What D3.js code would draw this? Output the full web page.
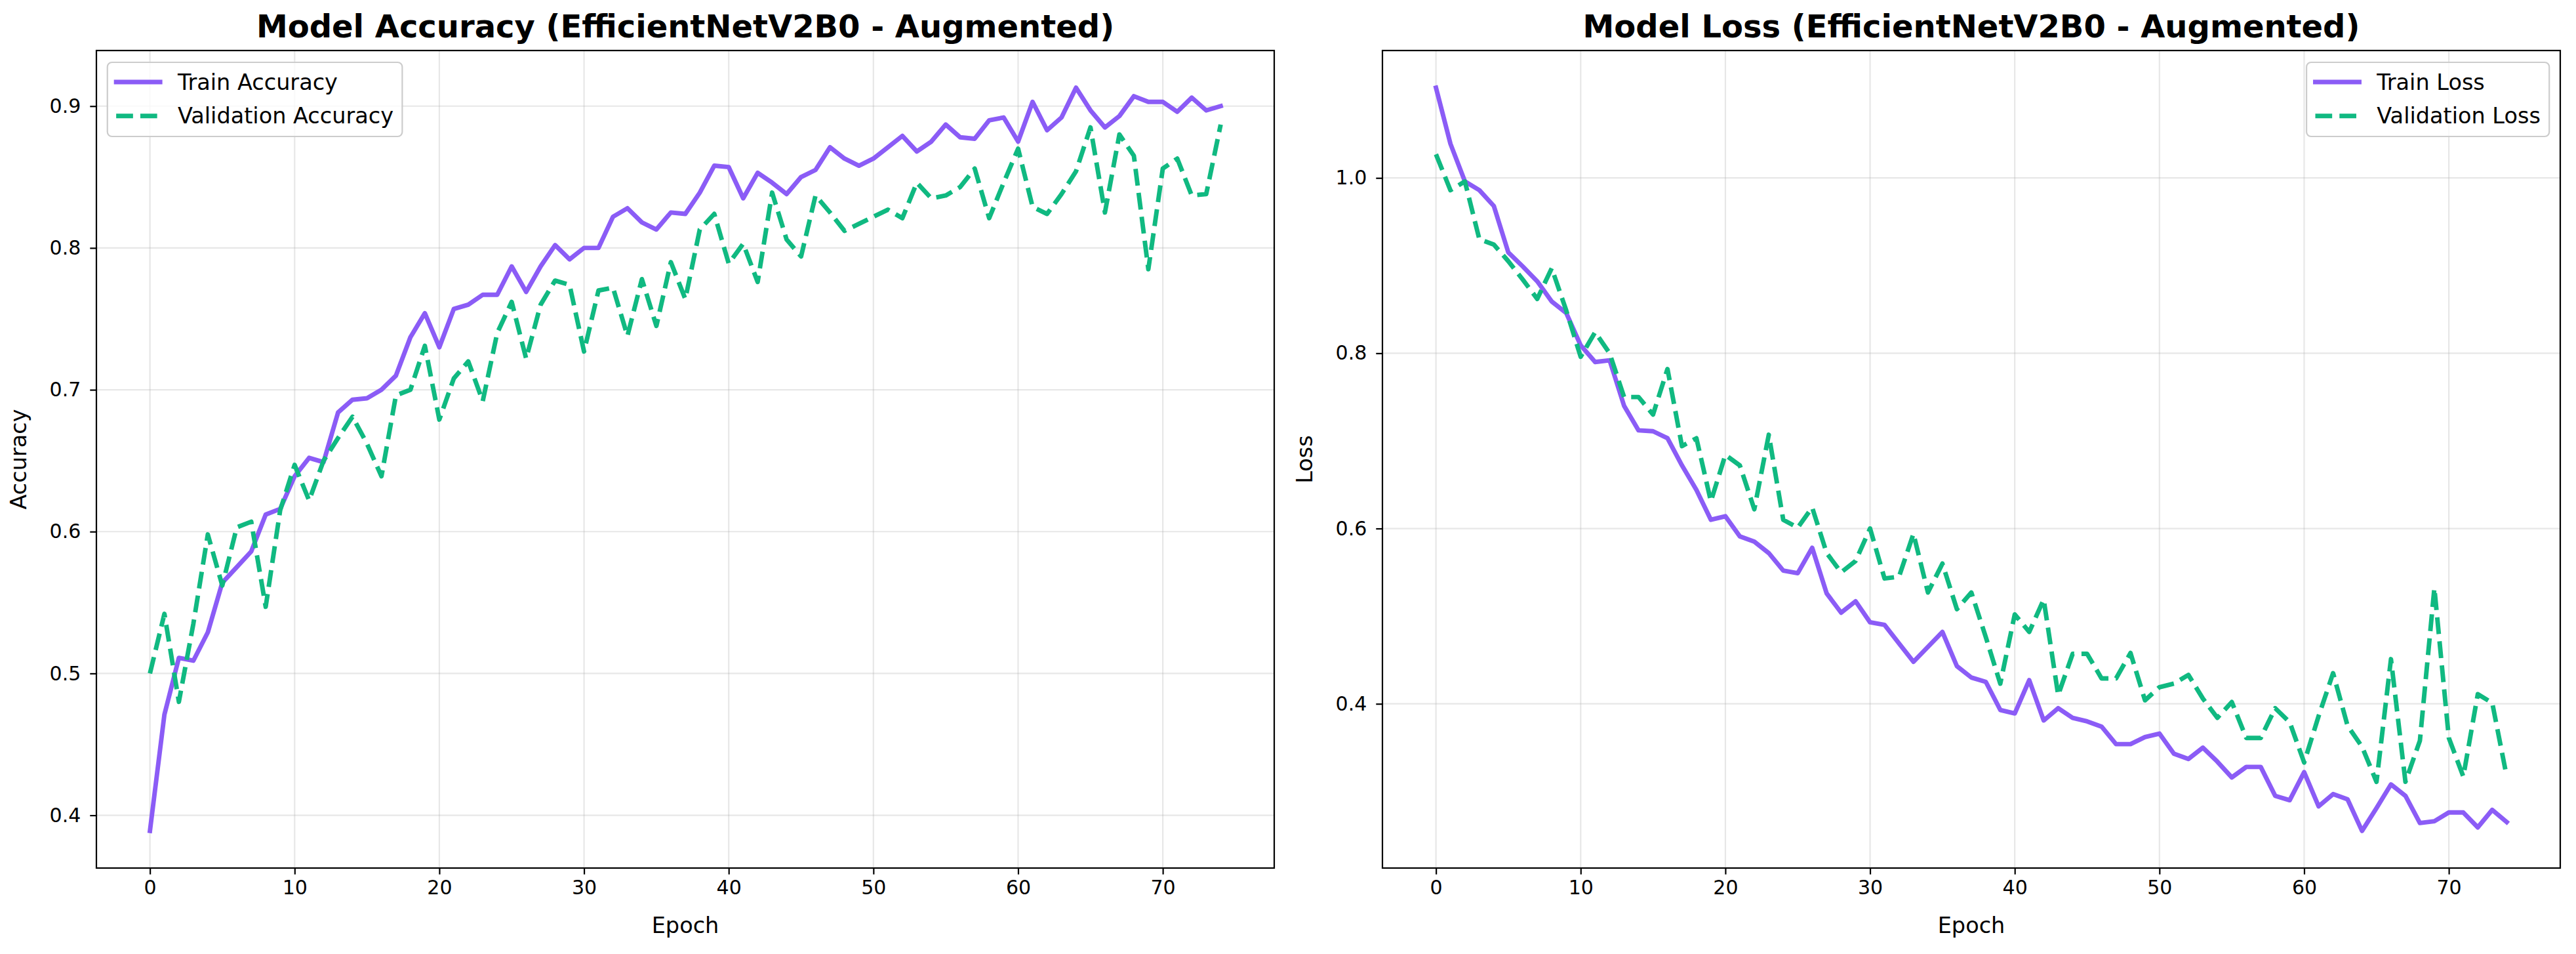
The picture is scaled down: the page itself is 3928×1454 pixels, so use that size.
<!DOCTYPE html>
<html>
<head>
<meta charset="utf-8">
<script src="https://cdn.jsdelivr.net/npm/d3@7/dist/d3.min.js"></script>
<style>
  html, body { margin: 0; padding: 0; background: #ffffff; }
  svg { display: block; font-family: "DejaVu Sans", sans-serif; }
</style>
</head>
<body>
<svg id="chart" width="3928" height="1454"></svg>
<script>
// ---------------- data ----------------
const epochs = d3.range(0, 75);

const trainAccuracy = [
  0.389, 0.471, 0.511, 0.509, 0.529, 0.564, 0.575, 0.586, 0.612, 0.616,
  0.639, 0.652, 0.649, 0.684, 0.693, 0.694, 0.700, 0.710, 0.737, 0.754,
  0.730, 0.757, 0.760, 0.767, 0.767, 0.787, 0.769, 0.787, 0.802, 0.792,
  0.800, 0.800, 0.822, 0.828, 0.818, 0.813, 0.825, 0.824, 0.839, 0.858,
  0.857, 0.835, 0.853, 0.846, 0.838, 0.850, 0.855, 0.871, 0.863, 0.858,
  0.863, 0.871, 0.879, 0.868, 0.875, 0.887, 0.878, 0.877, 0.890, 0.892,
  0.875, 0.903, 0.883, 0.892, 0.913, 0.897, 0.885, 0.893, 0.907, 0.903,
  0.903, 0.896, 0.906, 0.897, 0.900
];
const valAccuracy = [
  0.500, 0.542, 0.480, 0.535, 0.598, 0.562, 0.603, 0.607, 0.547, 0.615,
  0.647, 0.622, 0.650, 0.666, 0.681, 0.662, 0.639, 0.696, 0.700, 0.731,
  0.679, 0.708, 0.720, 0.692, 0.740, 0.762, 0.722, 0.760, 0.777, 0.774,
  0.727, 0.770, 0.772, 0.738, 0.778, 0.745, 0.790, 0.764, 0.813, 0.824,
  0.789, 0.803, 0.776, 0.839, 0.806, 0.794, 0.837, 0.825, 0.812, 0.817,
  0.822, 0.827, 0.821, 0.846, 0.835, 0.837, 0.843, 0.856, 0.821, 0.846,
  0.870, 0.829, 0.824, 0.838, 0.854, 0.885, 0.825, 0.880, 0.865, 0.785,
  0.856, 0.863, 0.837, 0.838, 0.887
];
const trainLoss = [
  1.103, 1.039, 0.996, 0.986, 0.968, 0.915, 0.899, 0.882, 0.859, 0.846,
  0.809, 0.790, 0.792, 0.740, 0.712, 0.711, 0.703, 0.672, 0.644, 0.610,
  0.614, 0.591, 0.585, 0.572, 0.552, 0.549, 0.578, 0.526, 0.504, 0.517,
  0.493, 0.490, 0.469, 0.448, 0.465, 0.482, 0.443, 0.430, 0.425, 0.393,
  0.389, 0.427, 0.381, 0.395, 0.384, 0.380, 0.374, 0.354, 0.354, 0.362,
  0.366, 0.343, 0.337, 0.350, 0.334, 0.316, 0.328, 0.328, 0.295, 0.290,
  0.322, 0.283, 0.297, 0.291, 0.255, 0.281, 0.308, 0.295, 0.264, 0.266,
  0.276, 0.276, 0.259, 0.279, 0.265
];
const valLoss = [
  1.027, 0.986, 0.996, 0.930, 0.924, 0.905, 0.884, 0.862, 0.897, 0.849,
  0.796, 0.824, 0.800, 0.750, 0.750, 0.730, 0.782, 0.694, 0.703, 0.631,
  0.684, 0.672, 0.622, 0.707, 0.610, 0.601, 0.624, 0.572, 0.550, 0.563,
  0.600, 0.543, 0.545, 0.594, 0.527, 0.560, 0.508, 0.527, 0.476, 0.423,
  0.502, 0.482, 0.519, 0.410, 0.457, 0.457, 0.429, 0.429, 0.458, 0.404,
  0.419, 0.423, 0.433, 0.406, 0.384, 0.402, 0.361, 0.361, 0.395, 0.379,
  0.333, 0.386, 0.435, 0.375, 0.351, 0.311, 0.451, 0.311, 0.358, 0.532,
  0.361, 0.317, 0.411, 0.401, 0.317
];

const xTicks = [0, 10, 20, 30, 40, 50, 60, 70];
const accTicks = [0.4, 0.5, 0.6, 0.7, 0.8, 0.9];
const lossTicks = [0.4, 0.6, 0.8, 1.0];

const titles = ["Model Accuracy (EfficientNetV2B0 - Augmented)", "Model Loss (EfficientNetV2B0 - Augmented)"];
const yLabels = ["Accuracy", "Loss"];
const xLabel = "Epoch";
const seriesNamesAcc = ["Train Accuracy", "Validation Accuracy"];
const seriesNamesLoss = ["Train Loss", "Validation Loss"];

// ---------------- styling ----------------
const TRAIN_COLOR = "#8b5cf6";
const VAL_COLOR = "#10b981";
const LINE_W = 6.9;
const DASH = "25.7,11.1";
const TICK_FS = 30;
const LABEL_FS = 33.5;
const LEGEND_FS = 33.5;
const TITLE_FS = 48;

const svg = d3.select("#chart");
svg.append("rect").attr("width", 3928).attr("height", 1454).attr("fill", "#ffffff");

const TOP = 77, BOTTOM = 1323;

const panels = [
  { left: 147, right: 1943, title: titles[0], ylabel: yLabels[0], ticks: accTicks,
    series: [trainAccuracy, valAccuracy], names: seriesNamesAcc, legend: "left", fmt: d3.format(".1f") },
  { left: 2108, right: 3904, title: titles[1], ylabel: yLabels[1], ticks: lossTicks,
    series: [trainLoss, valLoss], names: seriesNamesLoss, legend: "right", fmt: d3.format(".1f") }
];

panels.forEach((p, pi) => {
  const g = svg.append("g");
  const xExt = d3.extent(epochs);
  const xPad = (xExt[1] - xExt[0]) * 0.05;
  const x = d3.scaleLinear().domain([xExt[0] - xPad, xExt[1] + xPad]).range([p.left, p.right]);
  const all = p.series[0].concat(p.series[1]);
  const yExt = d3.extent(all);
  const yPad = (yExt[1] - yExt[0]) * 0.05;
  const y = d3.scaleLinear().domain([yExt[0] - yPad, yExt[1] + yPad]).range([BOTTOM, TOP]);

  const clipId = "clip" + pi;
  svg.append("clipPath").attr("id", clipId).append("rect")
    .attr("x", p.left).attr("y", TOP).attr("width", p.right - p.left).attr("height", BOTTOM - TOP);

  // grid
  const grid = g.append("g");
  grid.selectAll("line.gx").data(xTicks).join("line")
    .attr("x1", d => x(d)).attr("x2", d => x(d)).attr("y1", TOP).attr("y2", BOTTOM)
    .attr("stroke", "#b0b0b0").attr("stroke-opacity", 0.3).attr("stroke-width", 2.2);
  grid.selectAll("line.gy").data(p.ticks).join("line")
    .attr("y1", d => y(d)).attr("y2", d => y(d)).attr("x1", p.left).attr("x2", p.right)
    .attr("stroke", "#b0b0b0").attr("stroke-opacity", 0.3).attr("stroke-width", 2.2);

  // lines
  const line = d3.line().x((d, i) => x(epochs[i])).y(d => y(d));
  const lg = g.append("g").attr("clip-path", `url(#${clipId})`);
  lg.append("path").datum(p.series[0]).attr("d", line)
    .attr("fill", "none").attr("stroke", TRAIN_COLOR).attr("stroke-width", LINE_W)
    .attr("stroke-linejoin", "round").attr("stroke-linecap", "square");
  lg.append("path").datum(p.series[1]).attr("d", line)
    .attr("fill", "none").attr("stroke", VAL_COLOR).attr("stroke-width", LINE_W)
    .attr("stroke-linejoin", "round").attr("stroke-linecap", "butt")
    .attr("stroke-dasharray", DASH);

  // axes
  const xAxis = d3.axisBottom(x).tickValues(xTicks).tickSize(9.7).tickPadding(9).tickFormat(d3.format("d"));
  const xg = g.append("g").attr("transform", `translate(0,${BOTTOM})`).call(xAxis);
  const yAxis = d3.axisLeft(y).tickValues(p.ticks).tickSize(9.7).tickPadding(14).tickFormat(p.fmt);
  const yg = g.append("g").attr("transform", `translate(${p.left},0)`).call(yAxis);
  [xg, yg].forEach(a => {
    a.select(".domain").remove();
    a.selectAll(".tick line").attr("stroke", "#000").attr("stroke-width", 2.2);
    a.selectAll(".tick text").attr("fill", "#000").attr("font-size", TICK_FS)
      .attr("font-family", "DejaVu Sans");
  });
  xg.selectAll(".tick text").attr("dy", "0.71em");

  // spines
  g.append("rect").attr("x", p.left).attr("y", TOP)
    .attr("width", p.right - p.left).attr("height", BOTTOM - TOP)
    .attr("fill", "none").attr("stroke", "#000").attr("stroke-width", 2.2);

  // labels
  g.append("text").attr("x", (p.left + p.right) / 2).attr("y", 1421.7)
    .attr("text-anchor", "middle").attr("font-size", LABEL_FS).attr("fill", "#000").text(xLabel);
  g.append("text").attr("transform", `translate(${p.left - 107},${(TOP + BOTTOM) / 2}) rotate(-90)`)
    .attr("text-anchor", "middle").attr("font-size", LABEL_FS).attr("fill", "#000").text(p.ylabel);
  g.append("text").attr("x", (p.left + p.right) / 2).attr("y", 57)
    .attr("text-anchor", "middle").attr("font-size", TITLE_FS).attr("font-weight", "bold")
    .attr("fill", "#000").text(p.title);

  // legend
  const fs = LEGEND_FS;
  const leg = g.append("g");
  const box = leg.append("rect");
  const rows = [
    { name: p.names[0], color: TRAIN_COLOR, dash: null },
    { name: p.names[1], color: VAL_COLOR, dash: DASH }
  ];
  const texts = [];
  rows.forEach((r, i) => {
    const t = leg.append("text").attr("font-size", fs).attr("fill", "#000")
      .attr("dominant-baseline", "central").text(r.name);
    texts.push(t);
  });
  const maxW = d3.max(texts, t => t.node().getComputedTextLength());
  const pad = 0.4 * fs, hl = 2.0 * fs, htp = 0.8 * fs;
  const boxW = pad + hl + htp + maxW + pad;
  const boxH = 113;
  const bx = p.legend === "left" ? p.left + 0.5 * fs : p.right - 0.5 * fs - boxW;
  const by = 95;
  box.attr("x", bx).attr("y", by).attr("width", boxW).attr("height", boxH)
    .attr("rx", 7).attr("fill", "#ffffff").attr("fill-opacity", 0.8)
    .attr("stroke", "#cccccc").attr("stroke-width", 2.2);
  const rowY = [125, 176.7];
  rows.forEach((r, i) => {
    const hx = bx + pad;
    leg.append("line").attr("x1", hx).attr("x2", hx + hl).attr("y1", rowY[i]).attr("y2", rowY[i])
      .attr("stroke", r.color).attr("stroke-width", LINE_W)
      .attr("stroke-linecap", r.dash ? "butt" : "square")
      .attr("stroke-dasharray", r.dash);
    texts[i].attr("x", hx + hl + htp).attr("y", rowY[i]);
  });
});
</script>
</body>
</html>
